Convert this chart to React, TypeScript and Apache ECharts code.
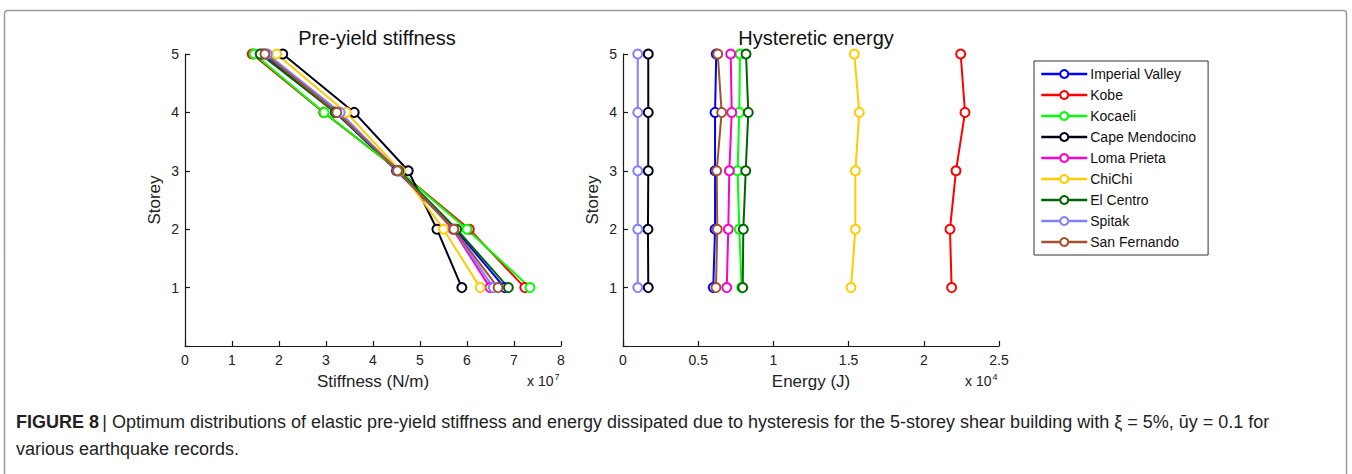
import React, { useEffect, useRef } from "react";
import * as echarts from "echarts";

const storeys = [1, 2, 3, 4, 5];
const recordNames = [
  "Imperial Valley",
  "Kobe",
  "Kocaeli",
  "Cape Mendocino",
  "Loma Prieta",
  "ChiChi",
  "El Centro",
  "Spitak",
  "San Fernando",
];
const recordColors = [
  "#0000ff",
  "#ff0000",
  "#00ff00",
  "#00001a",
  "#ff00cc",
  "#ffcc00",
  "#006400",
  "#8080ff",
  "#a0522d",
];

// Pre-yield stiffness (x 10^7 N/m), storey 1..5
const stiffImperialValley = [6.8, 5.75, 4.5, 3.2, 1.65];
const stiffKobe = [7.23, 6.05, 4.55, 2.95, 1.43];
const stiffKocaeli = [7.34, 6.0, 4.55, 2.96, 1.47];
const stiffCapeMendocino = [5.89, 5.36, 4.75, 3.6, 2.08];
const stiffLomaPrieta = [6.49, 5.7, 4.55, 3.25, 1.7];
const stiffChiChi = [6.28, 5.5, 4.58, 3.43, 1.95];
const stiffElCentro = [6.88, 5.78, 4.55, 3.2, 1.6];
const stiffSpitak = [6.56, 5.72, 4.52, 3.3, 1.75];
const stiffSanFernando = [6.66, 5.72, 4.52, 3.23, 1.7];

// Hysteretic energy (x 10^4 J), storey 1..5
const energyImperialValley = [0.6, 0.612, 0.612, 0.612, 0.62];
const energyKobe = [2.185, 2.174, 2.214, 2.274, 2.245];
const energyKocaeli = [0.789, 0.773, 0.762, 0.773, 0.778];
const energyCapeMendocino = [0.168, 0.166, 0.168, 0.168, 0.168];
const energyLomaPrieta = [0.69, 0.7, 0.707, 0.723, 0.716];
const energyChiChi = [1.516, 1.545, 1.545, 1.571, 1.538];
const energyElCentro = [0.796, 0.8, 0.816, 0.833, 0.818];
const energySpitak = [0.098, 0.098, 0.098, 0.098, 0.098];
const energySanFernando = [0.618, 0.627, 0.623, 0.656, 0.63];

const stiffnessSets = [
  stiffImperialValley,
  stiffKobe,
  stiffKocaeli,
  stiffCapeMendocino,
  stiffLomaPrieta,
  stiffChiChi,
  stiffElCentro,
  stiffSpitak,
  stiffSanFernando,
];
const energySets = [
  energyImperialValley,
  energyKobe,
  energyKocaeli,
  energyCapeMendocino,
  energyLomaPrieta,
  energyChiChi,
  energyElCentro,
  energySpitak,
  energySanFernando,
];

const FONT = "Liberation Sans, Arial, sans-serif";

export default function App() {
  const ref = useRef<HTMLDivElement>(null);

  useEffect(() => {
    if (!ref.current) return;
    const chart = echarts.init(ref.current, undefined, { renderer: "svg" });

    const axisCommon = {
      axisLine: { show: true, lineStyle: { color: "#1a1a1a", width: 1.2 } },
      axisTick: { show: true, inside: true, length: 5, lineStyle: { color: "#1a1a1a", width: 1.2 } },
      splitLine: { show: false },
      axisLabel: { color: "#222", fontSize: 14, fontFamily: FONT },
      nameTextStyle: { color: "#222", fontSize: 17, fontFamily: FONT },
    };

    const makeX = (gridIndex: number, max: number, interval: number, name: string) => ({
      ...axisCommon,
      type: "value",
      gridIndex,
      min: 0,
      max,
      interval,
      name,
      nameLocation: "middle",
      nameGap: 27,
      axisLabel: { ...axisCommon.axisLabel, margin: 7 },
    });
    const makeY = (gridIndex: number) => ({
      ...axisCommon,
      type: "value",
      gridIndex,
      min: 0,
      max: 5,
      interval: 1,
      name: "Storey",
      nameLocation: "middle",
      nameGap: 22,
      axisLabel: {
        ...axisCommon.axisLabel,
        margin: 6,
        formatter: (v: number) => (v === 0 ? "" : String(v)),
      },
    });

    const series: any[] = [];
    recordNames.forEach((name, i) => {
      series.push({
        type: "line",
        name,
        xAxisIndex: 0,
        yAxisIndex: 0,
        data: storeys.map((s, k) => [stiffnessSets[i][k], s]),
        symbol: "emptyCircle",
        symbolSize: 9,
        color: recordColors[i],
        lineStyle: { width: 2, color: recordColors[i] },
        itemStyle: { color: recordColors[i], borderWidth: 2 },
      });
    });
    recordNames.forEach((name, i) => {
      series.push({
        type: "line",
        name,
        xAxisIndex: 1,
        yAxisIndex: 1,
        data: storeys.map((s, k) => [energySets[i][k], s]),
        symbol: "emptyCircle",
        symbolSize: 9,
        color: recordColors[i],
        lineStyle: { width: 2, color: recordColors[i] },
        itemStyle: { color: recordColors[i], borderWidth: 2 },
      });
    });

    const supText = (p: string) => ({
      text: `{b|x 10}{s|${p}}`,
      rich: {
        b: { fontSize: 14, fontFamily: FONT, fill: "#222" },
        s: { fontSize: 9, fontFamily: FONT, fill: "#222", verticalAlign: "top", padding: [0, 0, 9, 1] },
      },
    });

    chart.setOption({
      animation: false,
      backgroundColor: "#fff",
      title: [
        {
          text: "Pre-yield stiffness",
          left: 372,
          top: 23,
          textAlign: "center",
          textStyle: { fontSize: 20, fontWeight: "normal", color: "#111", fontFamily: FONT },
        },
        {
          text: "Hysteretic energy",
          left: 811,
          top: 23,
          textAlign: "center",
          textStyle: { fontSize: 20, fontWeight: "normal", color: "#111", fontFamily: FONT },
        },
      ],
      grid: [
        { left: 185, top: 54, width: 376, height: 292, containLabel: false },
        { left: 623, top: 54, width: 376, height: 292, containLabel: false },
      ],
      xAxis: [
        makeX(0, 8, 1, "Stiffness (N/m)"),
        makeX(1, 2.5, 0.5, "Energy (J)"),
      ],
      yAxis: [makeY(0), makeY(1)],
      legend: {
        data: recordNames,
        orient: "vertical",
        left: 1034,
        top: 61,
        width: 172,
        itemWidth: 46,
        itemHeight: 10,
        itemGap: 7,
        padding: [6, 12, 6, 6],
        borderColor: "#333",
        borderWidth: 1,
        itemStyle: { borderWidth: 2 },
        lineStyle: { width: 2.5 },
        textStyle: { fontSize: 14, lineHeight: 14, color: "#111", fontFamily: FONT, padding: [0, 0, 0, -2] },
      },
      series,
      graphic: [
        {
          type: "rect",
          shape: { x: 4.5, y: 10.5, width: 1342, height: 480, r: 3 },
          style: { fill: "none", stroke: "#9a9a9a", lineWidth: 1.5 },
          silent: true,
        },
        {
          type: "text",
          left: 527,
          top: 372,
          style: supText("7"),
        },
        {
          type: "text",
          left: 965,
          top: 372,
          style: supText("4"),
        },
        {
          type: "text",
          left: 16,
          top: 413,
          style: {
            text:
              "{b|FIGURE 8} {n|| Optimum distributions of elastic pre-yield stiffness and energy dissipated due to hysteresis for the 5-storey shear building with ξ = 5%, ūy = 0.1 for}",
            rich: {
              b: { fontSize: 18, fontWeight: "bold", fontFamily: FONT, fill: "#222" },
              n: { fontSize: 18, fontFamily: FONT, fill: "#222" },
            },
          },
        },
        {
          type: "text",
          left: 16,
          top: 440,
          style: {
            text: "various earthquake records.",
            fontSize: 18,
            fontFamily: FONT,
            fill: "#222",
          },
        },
      ],
    });

    return () => chart.dispose();
  }, []);

  return (
    <div
      ref={ref}
      style={{ position: "absolute", left: 0, top: 0, width: 1352, height: 474 }}
    />
  );
}
